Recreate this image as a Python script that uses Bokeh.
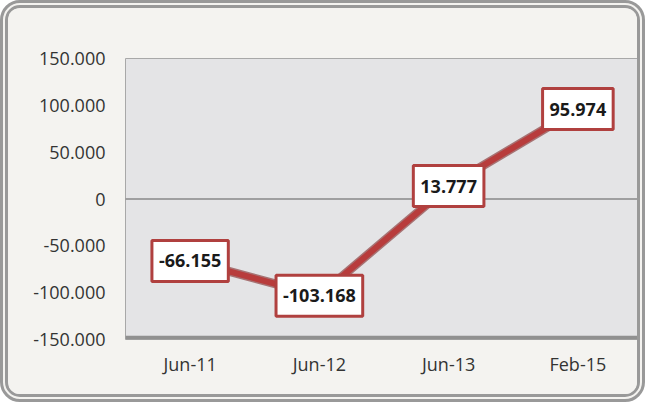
from bokeh.plotting import figure
from bokeh.models import (FactorRange, FixedTicker, ColumnDataSource, Label,
                          Span, BoxAnnotation)
from bokeh.embed import file_html
from bokeh.resources import INLINE

categories = ["Jun-11", "Jun-12", "Jun-13", "Feb-15"]
values = [-66155, -103168, 13777, 95974]
y_ticks = [-150000, -100000, -50000, 0, 50000, 100000, 150000]


def fmt(v):
    if v == 0:
        return "0"
    s = f"{abs(v):,}".replace(",", ".")
    return ("-" if v < 0 else "") + s


x_range = FactorRange(*categories)
p = figure(x_range=x_range, y_range=(-150000, 150000),
           width=645, height=402, output_backend="svg", toolbar_location=None,
           min_border_left=117, min_border_right=11, min_border_top=50,
           min_border_bottom=71)

p.border_fill_color = "#f4f3f0"
p.background_fill_color = "#e4e4e6"
p.outline_line_color = "#a8a8a8"
p.xgrid.visible = False
p.ygrid.visible = False
p.styles = {"border": "8px double #999999", "border-radius": "20px",
            "background-color": "#f4f3f0", "overflow": "hidden"}

bottom_shadow = BoxAnnotation(bottom=-150000, top=-146000, fill_color="#7a7a7a",
                              fill_alpha=0.8, line_color=None, level="underlay")
p.add_layout(bottom_shadow)

zero = Span(location=0, dimension="width", line_color="#5a5a5a", line_width=1)
p.add_layout(zero)

src = ColumnDataSource(dict(x=categories, y=values, lab=[fmt(v) for v in values]))

p.line("x", "y", source=src, line_color="#7f2727", line_width=9, line_alpha=0.6)
p.line("x", "y", source=src, line_color="#b83c3c", line_width=6)

# factor i has synthetic coordinate i + 0.5 on a FactorRange
for i, v in enumerate(values):
    p.add_layout(Label(x=i + 0.5, y=v, text=fmt(v),
                       text_align="center", text_baseline="middle",
                       text_font="Open Sans", text_font_style="bold",
                       text_font_size="18px", text_color="#1a1a1a",
                       background_fill_color="white", background_fill_alpha=1.0,
                       border_line_color="#b0403f", border_line_width=3,
                       padding=dict(left=7, right=7, top=14, bottom=14)))

p.yaxis.ticker = FixedTicker(ticks=y_ticks)
p.yaxis.major_label_overrides = {t: fmt(t) for t in y_ticks}
for ax in (p.xaxis, p.yaxis):
    ax.axis_line_color = None
    ax.major_tick_line_color = None
    ax.minor_tick_line_color = None
    ax.major_tick_out = 0
    ax.major_tick_in = 0
    ax.major_label_text_font = "Open Sans"
    ax.major_label_text_font_size = "18px"
    ax.major_label_text_color = "#333333"
p.yaxis.major_label_standoff = 20
p.xaxis.major_label_standoff = 12

open("out.html", "w").write(file_html(p, INLINE))
